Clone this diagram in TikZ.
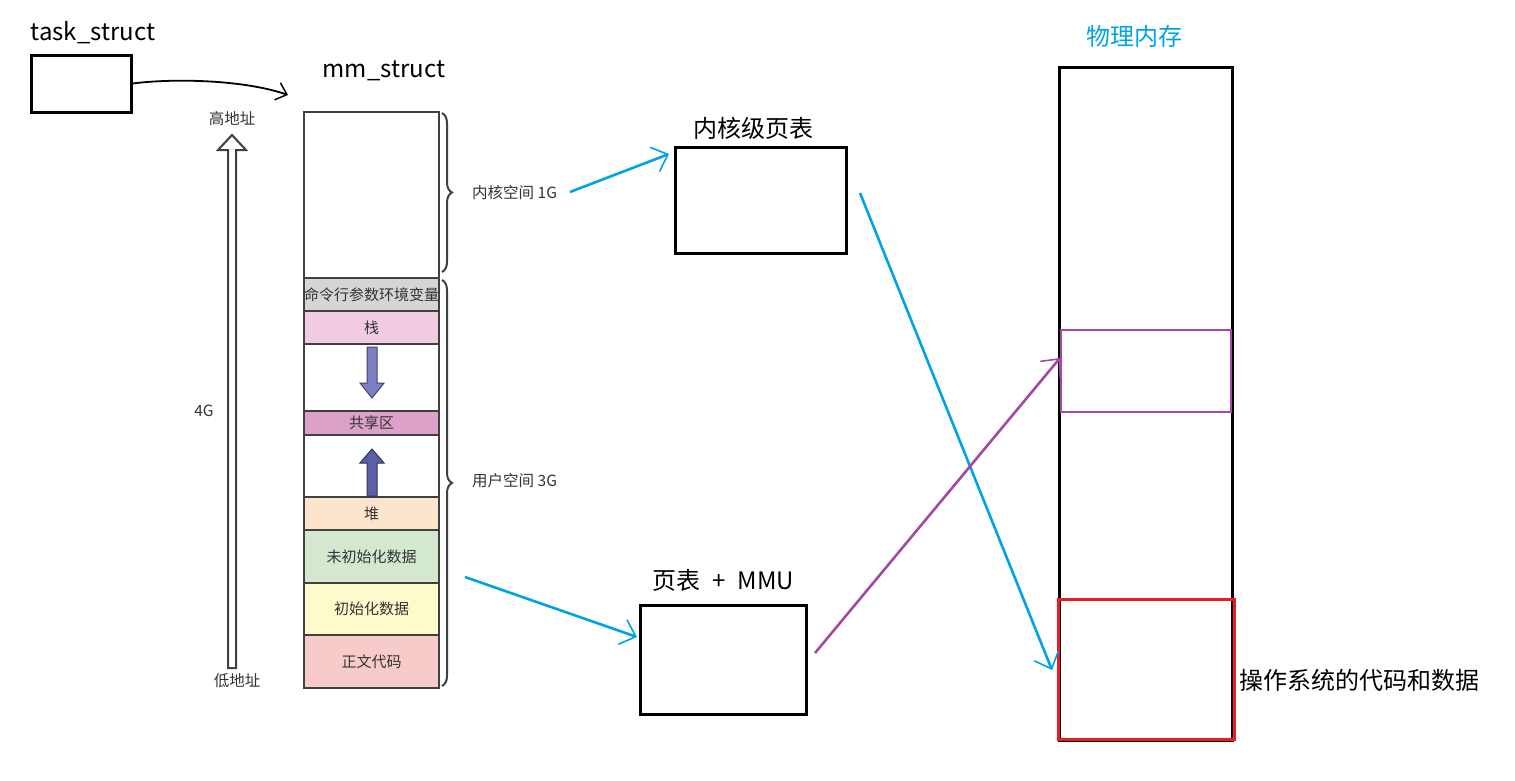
\documentclass[tikz,border=0pt]{standalone}
\usepackage{fontspec}
\setmainfont{Noto Sans CJK SC}
\usetikzlibrary{arrows.meta,decorations.pathreplacing}
\definecolor{segline}{HTML}{404040}
\definecolor{segtext}{HTML}{333333}
\definecolor{skyblue}{HTML}{00A2E8}
\definecolor{pmpurple}{HTML}{A349A4}
\definecolor{pmred}{HTML}{ED1C24}
\tikzset{
  bigbox/.style={draw=black,line width=3pt,inner sep=0pt,fill=white},
  seg/.style={draw=segline,line width=2pt,inner sep=0pt,minimum width=135pt,text=segtext,font=\fontsize{15}{17}\selectfont},
  biglabel/.style={font=\fontsize{24}{28}\selectfont,inner sep=0pt},
  smalllabel/.style={font=\fontsize{15.5}{17}\selectfont,text=segtext,inner sep=0pt},
  bluearrow/.style={draw=skyblue,line width=2.6pt,-{Straight Barb[length=14pt,width=26pt,line width=1.6pt]}},
  purplearrow/.style={draw=pmpurple,line width=2.6pt,-{Straight Barb[length=14pt,width=26pt,line width=1.6pt]}},
  brc/.style={draw=segline,line width=2pt,decorate,decoration={brace,amplitude=10pt}},
}
\begin{document}
\begin{tikzpicture}[x=1pt,y=-1pt]
\useasboundingbox (0,0) rectangle (1515,780);
% task_struct
\node[biglabel] (tasklbl) at (93,33) {task\_struct};
\node[bigbox,minimum width=100pt,minimum height=57pt] (task) at (81,83.5) {};
\node[biglabel] (mmlbl) at (384,71) {mm\_struct};
\coordinate (mmin) at (288,95);
\draw[line width=1.8pt,-{Straight Barb[length=10pt,width=18pt,line width=1.5pt]}] (task.east) .. controls (175,78) and (245,80) .. (mmin);
% address arrow
\draw[draw=segline,line width=2pt,fill=white] (228,668) -- (236,668) -- (236,150) -- (246,150) -- (232,135) -- (218,150) -- (228,150) -- cycle;
\node[smalllabel] (hi) at (232,119) {高地址};
\node[smalllabel] (lo) at (237,681) {低地址};
\node[smalllabel] (fourg) at (204,411) {4G};
% memory column
\node[seg,minimum height=166pt,fill=white] (kern) at (371.5,195) {};
\node[seg,minimum height=33pt,fill={rgb,255:red,213;green,213;blue,213}] (cmd) at (371.5,294.5) {命令行参数环境变量};
\node[seg,minimum height=33pt,fill={rgb,255:red,240;green,203;blue,225}] (stack) at (371.5,327.5) {栈};
\node[seg,minimum height=67pt,fill=white] (gap1) at (371.5,377.5) {};
\node[seg,minimum height=24pt,fill={rgb,255:red,219;green,161;blue,201}] (shared) at (371.5,423) {共享区};
\node[seg,minimum height=62pt,fill=white] (gap2) at (371.5,466) {};
\node[seg,minimum height=33pt,fill={rgb,255:red,253;green,228;blue,204}] (heap) at (371.5,513.5) {堆};
\node[seg,minimum height=53pt,fill={rgb,255:red,211;green,232;blue,207}] (bss) at (371.5,556.5) {未初始化数据};
\node[seg,minimum height=52pt,fill={rgb,255:red,253;green,251;blue,203}] (data) at (371.5,609) {初始化数据};
\node[seg,minimum height=53pt,fill={rgb,255:red,248;green,203;blue,203}] (text) at (371.5,661.5) {正文代码};
% stack / heap growth arrows
\draw[draw={rgb,255:red,64;green,64;blue,110},line width=1pt,fill={rgb,255:red,125;green,128;blue,194}] (367,347) -- (377,347) -- (377,383) -- (384,383) -- (372,398) -- (360,383) -- (367,383) -- cycle;
\draw[draw={rgb,255:red,50;green,50;blue,100},line width=1pt,fill={rgb,255:red,91;green,95;blue,166}] (367,496) -- (377,496) -- (377,463) -- (384,463) -- (372,449) -- (360,463) -- (367,463) -- cycle;
% braces
\draw[brc] (442,113) -- (442,272);
\node[smalllabel,anchor=west] (kspace) at (472,193) {内核空间 1G};
\draw[brc] (442,280) -- (442,686);
\node[smalllabel,anchor=west] (uspace) at (472,481) {用户空间 3G};
% page tables
\node[biglabel] (kptlbl) at (753,128) {内核级页表};
\node[bigbox,minimum width=171pt,minimum height=106pt] (kpt) at (760.5,200) {};
\node[biglabel] (mmulbl) at (723,580) {页表\enspace+\enspace MMU};
\node[bigbox,minimum width=166pt,minimum height=109pt] (mmu) at (723,659.5) {};
% physical memory
\node[font=\fontsize{24}{28}\selectfont,text=skyblue,inner sep=0pt] (physlbl) at (1134,36) {物理内存};
\node[bigbox,minimum width=173pt,minimum height=673pt] (phys) at (1145.5,403.5) {};
\node[draw=pmpurple,line width=2.5pt,inner sep=0pt,minimum width=170pt,minimum height=82pt] (ppage) at (1146,371) {};
\node[draw=pmred,line width=3pt,inner sep=0pt,minimum width=176pt,minimum height=140pt] (osarea) at (1146,669) {};
\node[biglabel,anchor=west] (oslbl) at (1239,680) {操作系统的代码和数据};
% connectors
\coordinate (a1s) at (570,192);
\coordinate (a1e) at (669,154);
\draw[bluearrow] (a1s) -- (a1e);
\coordinate (a2s) at (465,577);
\coordinate (a2e) at (637,637);
\draw[bluearrow] (a2s) -- (a2e);
\coordinate (a3s) at (860,193);
\coordinate (a3e) at (1052,670);
\draw[bluearrow] (a3s) -- (a3e);
\coordinate (a4s) at (815,653);
\coordinate (a4e) at (1060,358);
\draw[purplearrow] (a4s) -- (a4e);
\end{tikzpicture}
\end{document}
